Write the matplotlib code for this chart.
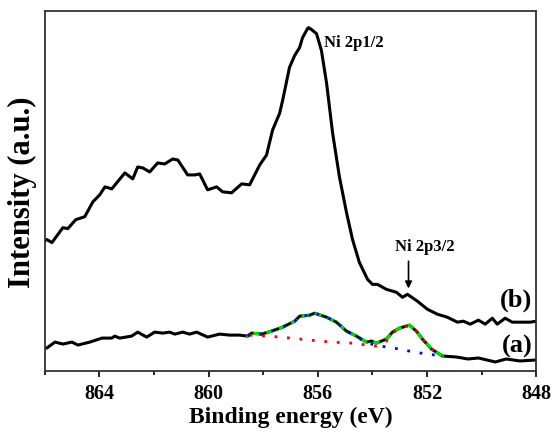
import matplotlib

matplotlib.use("Agg")
import matplotlib.pyplot as plt
from matplotlib.ticker import MultipleLocator

plt.rcParams["font.family"] = ["Liberation Serif", "DejaVu Serif"]
plt.rcParams["font.weight"] = "bold"

# (b) Ni 2p spectrum
be_b = [866.00, 865.93, 865.74, 865.34, 865.16, 864.87, 864.54, 864.24, 863.99, 863.80,
        863.55, 863.07, 862.78, 862.60, 862.41, 862.16, 861.87, 861.61, 861.32, 861.13,
        860.77, 860.51, 860.33, 860.04, 859.71, 859.49, 859.16, 858.79, 858.50, 858.13,
        857.88, 857.66, 857.40, 857.29, 857.04, 856.85, 856.67, 856.56, 856.38, 856.34,
        856.23, 856.05, 855.87, 855.68, 855.46, 855.21, 854.95, 854.73, 854.48, 854.18,
        854.00, 853.82, 853.49, 853.12, 852.90, 852.72, 852.35, 851.99, 851.62, 851.26,
        850.89, 850.67, 850.42, 850.12, 849.87, 849.61, 849.43, 849.14, 848.88, 848.59,
        848.22, 848.00]
int_b = [131, 132, 129, 144, 143, 152, 155, 170, 177, 185,
         183, 199, 193, 205, 204, 200, 209, 208, 213, 212,
         197, 197, 198, 182, 185, 180, 179, 188, 187, 207,
         217, 242, 259, 272, 305, 317, 325, 335, 344, 345,
         343, 339, 322, 289, 239, 195, 159, 132, 109, 92,
         87, 87, 82, 79, 74, 77, 70, 62, 57, 54,
         49, 50, 47, 51, 47, 53, 47, 53, 49, 49,
         49, 50]

# (a) spectrum
be_a = [866.00, 865.93, 865.63, 865.34, 865.01, 864.79, 864.35, 863.91, 863.55, 863.44,
        863.26, 862.82, 862.60, 862.27, 861.98, 861.68, 861.43, 861.24, 860.95, 860.70,
        860.44, 860.04, 859.60, 859.23, 858.87, 858.57, 858.43, 858.06, 857.70, 857.29,
        856.85, 856.67, 856.30, 856.12, 855.68, 855.32, 854.95, 854.59, 854.22, 854.04,
        853.85, 853.49, 853.27, 853.01, 852.65, 852.39, 852.17, 851.84, 851.44, 850.93,
        850.50, 850.12, 849.50, 849.10, 848.60, 848.00]
int_a = [23, 23, 29, 27, 29, 26, 29, 33, 33, 35,
         33, 35, 39, 34, 39, 38, 39, 37, 39, 37,
         39, 34, 37, 36, 36, 35, 38, 37, 40, 44,
         50, 55, 56, 58, 54, 49, 40, 35, 29, 30,
         28, 32, 39, 43, 46, 40, 32, 22, 15, 14,
         12, 13, 9, 12, 10, 11]

# fitted envelope and components of (a)
be_fit = [858.57, 858.43, 858.06, 857.70, 857.29, 856.85, 856.67, 856.30, 856.12, 855.68,
          855.32, 854.95, 854.59, 854.22, 854.04, 853.85, 853.49, 853.27, 853.01, 852.65,
          852.39, 852.17, 851.84, 851.44]
int_fit = [35, 38, 37, 40, 44, 50, 55, 56, 58, 54,
           49, 40, 35, 29, 30, 28, 32, 39, 43, 46,
           40, 32, 22, 15]

be_red = [858.50, 857.80, 857.00, 856.30, 855.50, 854.80, 854.20, 853.85, 853.49, 853.27,
          853.01, 852.65, 852.39, 852.17, 851.84, 851.44]
int_red = [36, 35, 33, 31, 29, 28, 26, 25, 30, 38,
           43, 46, 40, 32, 22, 15]

be_blue = [858.57, 858.43, 858.06, 857.70, 857.29, 856.85, 856.67, 856.30, 856.12, 855.68,
           855.32, 854.95, 854.59, 854.22, 853.50, 853.00, 852.50, 852.00, 851.44]
int_blue = [35, 38, 37, 40, 44, 50, 55, 56, 58, 54,
            49, 40, 35, 28, 24, 22, 19, 17, 15]

fig = plt.figure(figsize=(5.54, 4.35), dpi=100)
ax = fig.add_axes([0.081, 0.145, 0.887, 0.828])

ax.plot(be_b, int_b, color="black", lw=2.2)
ax.plot(be_a, int_a, color="black", lw=2.2)
ax.plot(be_fit, int_fit, color="#00dd00", lw=2.2)
ax.plot(be_fit, int_fit, color="black", lw=1.6, ls=(0, (3, 3)))
ax.plot(be_red, int_red, color="red", lw=2.0, ls=(0, (1, 3.5)))
ax.plot(be_blue, int_blue, color="blue", lw=2.0, ls=(0, (1, 3.5)))

ax.text(855.76, 331, "Ni 2p1/2", fontsize=12, fontweight="bold", ha="left", va="center")
ax.text(852.10, 126, "Ni 2p3/2", fontsize=12, fontweight="bold", ha="center", va="center")
ax.annotate("", xy=(852.68, 80), xytext=(852.68, 113),
            arrowprops=dict(arrowstyle="-|>", color="black", lw=1.2, mutation_scale=10))
ax.text(848.15, 72, "(b)", fontsize=19, fontweight="bold", ha="right", va="center")
ax.text(848.15, 26, "(a)", fontsize=19, fontweight="bold", ha="right", va="center")

ax.set_xlim(866, 848)
ax.set_ylim(0, 362)
ax.xaxis.set_major_locator(MultipleLocator(4))
ax.xaxis.set_minor_locator(MultipleLocator(2))
ax.set_yticks([])
ax.tick_params(axis="x", which="major", direction="out", length=4, width=1.2,
               labelsize=14.5, pad=5)
ax.tick_params(axis="x", which="minor", direction="out", length=3, width=1.2)
for lab in ax.get_xticklabels():
    lab.set_fontweight("bold")
for sp in ax.spines.values():
    sp.set_linewidth(1.3)
    sp.set_color("#333333")

ax.set_xlabel("Binding energy (eV)", fontsize=17, fontweight="bold", labelpad=2)
ax.set_ylabel("Intensity (a.u.)", fontsize=22, fontweight="bold", labelpad=6)

fig.savefig("out.png", dpi=100)
plt.close(fig)
